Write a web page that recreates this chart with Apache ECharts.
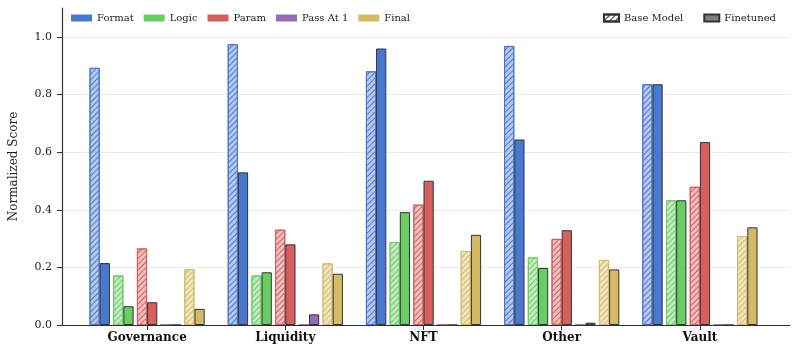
<!DOCTYPE html>
<html>
<head>
<meta charset="utf-8">
<title>Normalized Score by Category</title>
<script src="https://cdn.jsdelivr.net/npm/echarts@6/dist/echarts.min.js"></script>
<style>
  html, body { margin: 0; padding: 0; background: #fff; }
  #main { width: 798px; height: 352px; }
</style>
</head>
<body>
<div id="main"></div>
<script>
const categories = ['Governance', 'Liquidity', 'NFT', 'Other', 'Vault'];
const metrics = ['Format', 'Logic', 'Param', 'Pass At 1', 'Final'];
const colors = ['#4878d0', '#6acc64', '#d65f5f', '#956cb4', '#d5bb67'];
const yTicks = [0, 0.2, 0.4, 0.6, 0.8, 1.0];

// base model (hatched) and finetuned scores, one per category
const formatBase = [0.893, 0.975, 0.881, 0.969, 0.836];
const formatTuned = [0.215, 0.530, 0.960, 0.644, 0.836];
const logicBase = [0.172, 0.172, 0.288, 0.235, 0.433];
const logicTuned = [0.065, 0.183, 0.392, 0.198, 0.433];
const paramBase = [0.266, 0.331, 0.418, 0.299, 0.480];
const paramTuned = [0.079, 0.280, 0.501, 0.329, 0.635];
const passBase = [0, 0, 0, 0, 0];
const passTuned = [0, 0.037, 0, 0.008, 0];
const finalBase = [0.194, 0.214, 0.257, 0.226, 0.309];
const finalTuned = [0.056, 0.178, 0.313, 0.193, 0.339];

const baseData = [formatBase, logicBase, paramBase, passBase, finalBase];
const tunedData = [formatTuned, logicTuned, paramTuned, passTuned, finalTuned];

const font = 'DejaVu Serif';
const dark = '#333333';
const barW = 10.2;

// mix a hex colour with white (like alpha on a white background)
function lighten(hex, a) {
  const n = parseInt(hex.slice(1), 16);
  const ch = [(n >> 16) & 255, (n >> 8) & 255, n & 255].map(c => Math.round(c * a + 255 * (1 - a)));
  return 'rgb(' + ch.join(',') + ')';
}

function hatch(color) {
  return {
    symbol: 'rect',
    symbolSize: 1,
    dashArrayX: [1, 0],
    dashArrayY: [1, 3],
    rotation: -Math.PI / 4,
    color: color
  };
}

const series = [];
metrics.forEach((m, i) => {
  series.push({
    name: m + ' base',
    type: 'bar',
    xAxisIndex: 0, yAxisIndex: 0,
    barWidth: barW,
    barGap: '0%',
    data: baseData[i],
    itemStyle: {
      color: lighten(colors[i], 0.4),
      borderColor: colors[i],
      borderWidth: 1,
      decal: hatch(colors[i])
    }
  });
  series.push({
    name: m,
    type: 'bar',
    xAxisIndex: 0, yAxisIndex: 0,
    barWidth: barW,
    barGap: '0%',
    data: tunedData[i],
    itemStyle: { color: colors[i], borderColor: dark, borderWidth: 1 }
  });
  // little gap between the metric pairs
  if (i < metrics.length - 1) {
    series.push({
      name: 'gap' + i, type: 'bar', xAxisIndex: 0, yAxisIndex: 0,
      barWidth: 3.3, barGap: '0%', data: []
    });
  }
});

// legend-only series
series.push({
  name: 'Base Model', type: 'bar', xAxisIndex: 2, yAxisIndex: 2, data: [],
  itemStyle: { color: '#ffffff', borderColor: dark, borderWidth: 1, decal: hatch(dark) }
});
series.push({
  name: 'Finetuned', type: 'bar', xAxisIndex: 2, yAxisIndex: 2, data: [],
  itemStyle: { color: '#808080', borderColor: dark, borderWidth: 1 }
});

const myChart = echarts.init(document.getElementById('main'));

const option = {
  animation: false,
  textStyle: { fontFamily: font },
  legend: [
    {
      data: metrics,
      left: 66, top: 8,
      icon: 'rect',
      itemWidth: 21, itemHeight: 7, itemGap: 10,
      itemStyle: { borderWidth: 0 },
      textStyle: { fontFamily: font, fontSize: 10, color: '#222' }
    },
    {
      data: ['Base Model', 'Finetuned'],
      right: 17, top: 8,
      icon: 'rect',
      itemWidth: 15, itemHeight: 7, itemGap: 20,
      textStyle: { fontFamily: font, fontSize: 10, color: '#222' }
    }
  ],
  grid: [
    { left: 78, right: 29, top: 37, bottom: 27 },  // bars
    { left: 62, right: 8, top: 37, bottom: 27 },   // gridlines + tick labels
    { left: 62, right: 8, top: 8, bottom: 27 }     // spines
  ],
  xAxis: [
    {
      gridIndex: 0, type: 'category', data: categories,
      axisLine: { show: false },
      axisTick: { show: true, alignWithLabel: true, length: 5, lineStyle: { color: dark } },
      axisLabel: { fontFamily: font, fontSize: 12, fontWeight: 'bold', color: '#111', margin: 7 }
    },
    { gridIndex: 1, type: 'category', data: categories, show: false },
    {
      gridIndex: 2, type: 'category', data: categories, z: 5,
      axisLine: { show: true, lineStyle: { color: dark, width: 1.2 } },
      axisTick: { show: false }, axisLabel: { show: false }
    }
  ],
  yAxis: [
    { gridIndex: 0, type: 'value', min: 0, max: 1.0, show: false },
    {
      gridIndex: 1, type: 'value', min: 0, max: 1.0, interval: 0.2,
      axisLine: { show: false },
      axisTick: { show: true, length: 5, lineStyle: { color: dark } },
      axisLabel: {
        fontFamily: font, fontSize: 11, color: '#222', margin: 10,
        formatter: v => yTicks.includes(+v.toFixed(1)) ? v.toFixed(1) : ''
      },
      splitLine: { show: true, lineStyle: { color: '#ebebeb', width: 1 } }
    },
    {
      gridIndex: 2, type: 'value', min: 0, max: 1.1, z: 5,
      axisLine: { show: true, lineStyle: { color: dark, width: 1.2 } },
      axisTick: { show: false }, axisLabel: { show: false }, splitLine: { show: false },
      name: 'Normalized Score', nameLocation: 'middle', nameGap: 42,
      nameTextStyle: { fontFamily: font, fontSize: 12, color: '#222' }
    }
  ],
  series: series
};

myChart.setOption(option);
</script>
</body>
</html>
